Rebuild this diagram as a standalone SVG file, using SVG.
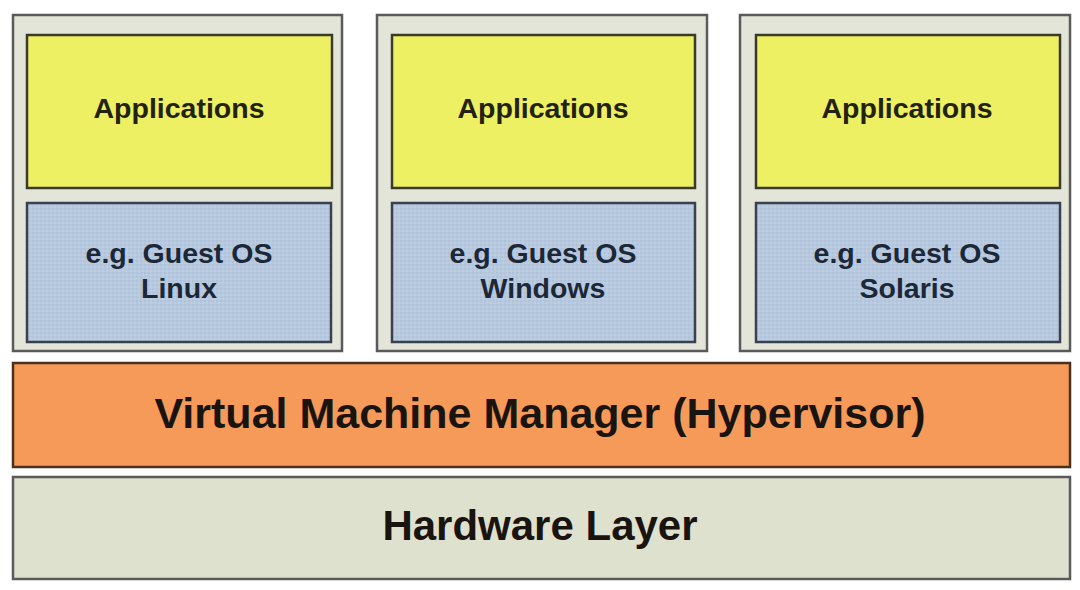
<svg xmlns="http://www.w3.org/2000/svg" width="1080" height="590" viewBox="0 0 1080 590">
<defs>
<pattern id="dots" width="4" height="4" patternUnits="userSpaceOnUse">
<rect width="4" height="4" fill="#b7c9df"/>
<circle cx="1" cy="1" r="0.8" fill="#a9bcd4"/>
<circle cx="3" cy="3" r="0.8" fill="#c4d3e6"/>
</pattern>
</defs>
<style>
.vm{fill:#e4e5d9;stroke:#5a5a5a;stroke-width:2.5}
.app{fill:#eef064;stroke:#3a3a2a;stroke-width:2.5}
.os{fill:url(#dots);stroke:#3a4050;stroke-width:2.5}
.hv{fill:#f59a58;stroke:#4a3020;stroke-width:2.5}
.hw{fill:#dfe1cf;stroke:#5a5a5a;stroke-width:2.5}
text{font-family:"Liberation Sans",Arial,sans-serif;font-weight:bold;text-anchor:middle}
.t1{font-size:28.5px;fill:#222211}
.t2{font-size:28.5px;fill:#1c2838}
.t3{font-size:43px;fill:#1a1410}
</style>
<rect width="1080" height="590" fill="#ffffff"/>
<g id="vm1">
<rect class="vm" x="13" y="15" width="329" height="336"/>
<rect class="app" x="27" y="35" width="305" height="153"/>
<text class="t1" x="179" y="118">Applications</text>
<rect class="os" x="27" y="203" width="304" height="139"/>
<text class="t2" x="179" y="263">e.g. Guest OS</text>
<text class="t2" x="179" y="298">Linux</text>
</g>
<g id="vm2">
<rect class="vm" x="377" y="15" width="330" height="336"/>
<rect class="app" x="392" y="35" width="303" height="153"/>
<text class="t1" x="543" y="118">Applications</text>
<rect class="os" x="392" y="203" width="303" height="139"/>
<text class="t2" x="543" y="263">e.g. Guest OS</text>
<text class="t2" x="543" y="298">Windows</text>
</g>
<g id="vm3">
<rect class="vm" x="740" y="15" width="330" height="336"/>
<rect class="app" x="756" y="35" width="304" height="153"/>
<text class="t1" x="907" y="118">Applications</text>
<rect class="os" x="756" y="203" width="304" height="139"/>
<text class="t2" x="907" y="263">e.g. Guest OS</text>
<text class="t2" x="907" y="298">Solaris</text>
</g>
<g id="hypervisor">
<rect class="hv" x="13" y="363" width="1057" height="104"/>
<text class="t3" x="540" y="428">Virtual Machine Manager (Hypervisor)</text>
</g>
<g id="hardware">
<rect class="hw" x="13" y="477" width="1057" height="102"/>
<text class="t3" x="540" y="540" style="font-size:42px">Hardware Layer</text>
</g>
<g id="connectors"></g>
</svg>
